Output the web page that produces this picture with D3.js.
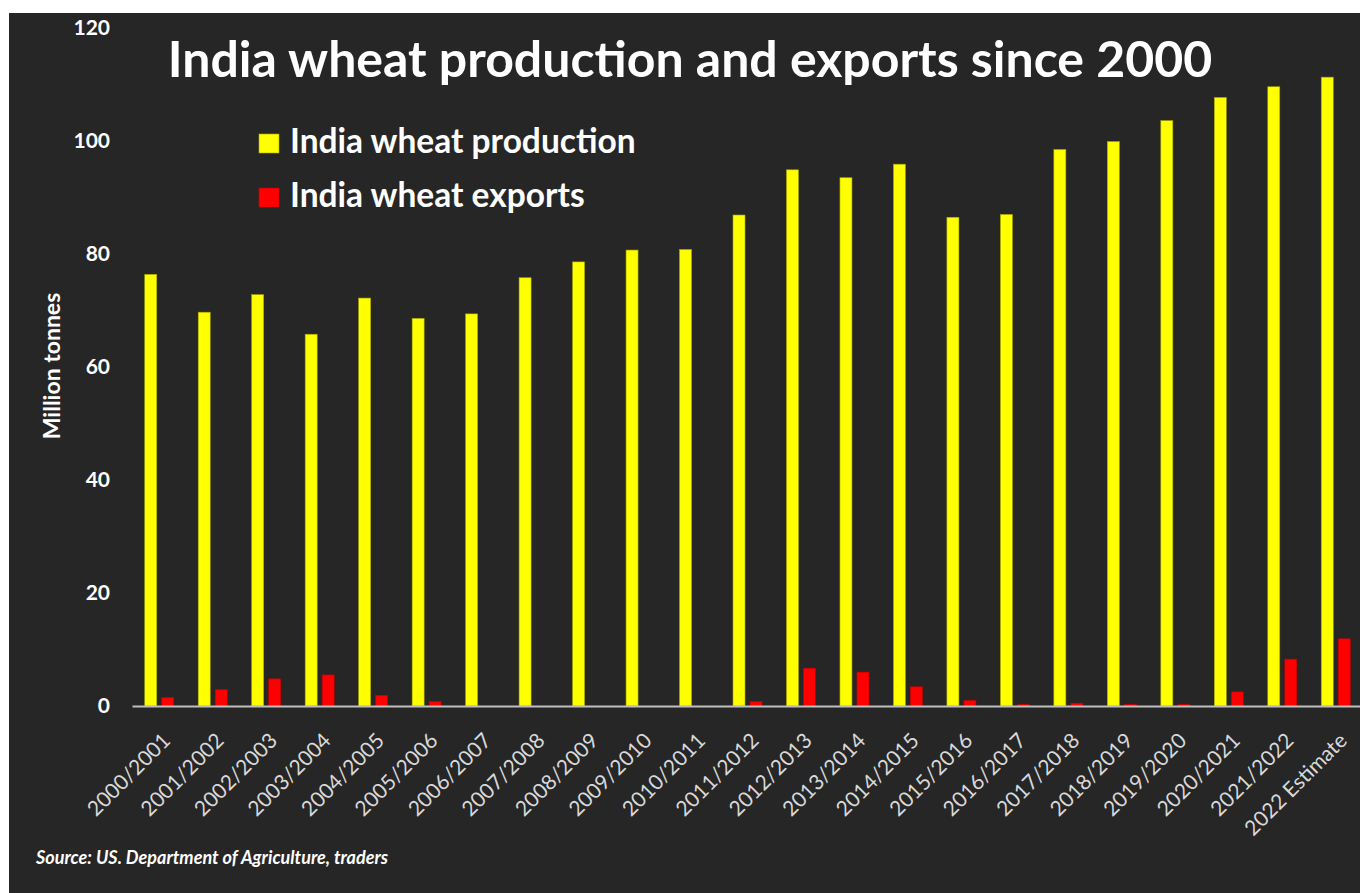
<!DOCTYPE html>
<html>
<head>
<meta charset="utf-8">
<script src="https://cdn.jsdelivr.net/npm/d3@7"></script>
<style>
  body { margin: 0; background: #fff; }
  text { font-family: Lato, "Open Sans", sans-serif; }
</style>
</head>
<body>
<div id="chart"></div>
<script>
var seasons = ["2000/2001","2001/2002","2002/2003","2003/2004","2004/2005","2005/2006",
  "2006/2007","2007/2008","2008/2009","2009/2010","2010/2011","2011/2012","2012/2013",
  "2013/2014","2014/2015","2015/2016","2016/2017","2017/2018","2018/2019","2019/2020",
  "2020/2021","2021/2022","2022 Estimate"];
var production = [76.4, 69.7, 72.8, 65.8, 72.2, 68.6, 69.4, 75.8, 78.6, 80.7, 80.8, 86.9,
  94.9, 93.5, 95.9, 86.5, 87.0, 98.5, 99.9, 103.6, 107.7, 109.6, 111.3];
var exports = [1.5, 2.9, 4.8, 5.5, 1.9, 0.8, 0, 0, 0, 0, 0, 0.8, 6.7, 6.0, 3.4, 1.0,
  0.3, 0.5, 0.3, 0.3, 2.5, 8.3, 11.9];
var yTicks = [0, 20, 40, 60, 80, 100, 120];

var W = 1360, H = 893;
var size = {left: 132, right: 1362, top: 28, bottom: 706};

var svg = d3.select("#chart").append("svg")
    .attr("width", W)
    .attr("height", H);

svg.append("rect")
    .attr("x", 9).attr("y", 13)
    .attr("width", W - 9).attr("height", H - 13)
    .attr("fill", "#262626");

var x = d3.scaleBand()
    .domain(seasons)
    .range([size.left, size.right]);

var y = d3.scaleLinear()
    .domain([0, 120])
    .range([size.bottom, size.top]);

var barW = 12, gap = 5;

var groups = svg.selectAll(".grp")
  .data(seasons)
  .enter().append("g")
    .attr("class", "grp")
    .attr("transform", function(d) { return "translate(" + (x(d) + x.bandwidth() / 2) + ",0)"; });

groups.append("rect")
    .attr("x", -barW - gap / 2 + 0.5)
    .attr("width", barW)
    .attr("y", function(d, i) { return y(production[i]); })
    .attr("height", function(d, i) { return y(0) - y(production[i]); })
    .attr("fill", "#ffff00")
    .attr("stroke", "#a8a800")
    .attr("stroke-width", 0.6);

groups.filter(function(d, i) { return exports[i] > 0; })
  .append("rect")
    .attr("x", gap / 2 + 0.5)
    .attr("width", barW)
    .attr("y", function(d) { return y(exports[seasons.indexOf(d)]); })
    .attr("height", function(d) { return y(0) - y(exports[seasons.indexOf(d)]); })
    .attr("fill", "#ff0000")
    .attr("stroke", "#c00000")
    .attr("stroke-width", 0.6);

// y axis labels only, no line
var yAxis = svg.append("g")
    .attr("transform", "translate(110,0)")
    .call(d3.axisLeft(y).tickValues(yTicks).tickSize(0).tickPadding(0));
yAxis.select(".domain").remove();
yAxis.selectAll("text")
    .attr("fill", "#ffffff")
    .style("font-size", "21px")
    .style("font-weight", "bold")
    .style("font-family", "Lato, sans-serif");

// x axis
var xAxis = svg.append("g")
    .attr("transform", "translate(0," + size.bottom + ")")
    .call(d3.axisBottom(x).tickSize(0).tickPadding(0));
xAxis.select(".domain")
    .attr("stroke", "#bfbfbf")
    .attr("stroke-width", 2);
xAxis.selectAll("text")
    .attr("fill", "#d9d9d9")
    .attr("text-anchor", "end")
    .attr("y", 0)
    .attr("dy", 0)
    .attr("transform", "translate(13,36) rotate(-45)")
    .style("font-size", "21px")
    .style("font-family", "Lato, sans-serif");

svg.append("text")
    .attr("transform", "translate(60,366) rotate(-90)")
    .attr("text-anchor", "middle")
    .attr("fill", "#ffffff")
    .style("font-size", "23px")
    .style("font-weight", "bold")
    .text("Million tonnes");

svg.append("text")
    .attr("x", 690).attr("y", 77)
    .attr("text-anchor", "middle")
    .attr("fill", "#ffffff")
    .style("font-size", "50px")
    .style("font-weight", "bold")
    .text("India wheat production and exports since 2000");

var legend = svg.append("g");
var legendItems = [["India wheat production", "#ffff00", "#a8a800"], ["India wheat exports", "#ff0000", "#c00000"]];
legend.selectAll("rect").data(legendItems).enter().append("rect")
    .attr("x", 259).attr("y", function(d, i) { return 134 + i * 54; })
    .attr("width", 20).attr("height", 19)
    .attr("fill", function(d) { return d[1]; })
    .attr("stroke", function(d) { return d[2]; })
    .attr("stroke-width", 0.6);
legend.selectAll("text").data(legendItems).enter().append("text")
    .attr("x", 290).attr("y", function(d, i) { return 153 + i * 54; })
    .attr("fill", "#ffffff")
    .style("font-size", "33.5px")
    .style("font-weight", "bold")
    .text(function(d) { return d[0]; });

svg.append("text")
    .attr("x", 36).attr("y", 864)
    .attr("fill", "#ffffff")
    .style("font-size", "18px")
    .style("font-weight", "bold")
    .style("font-style", "italic")
    .text("Source: US. Department of Agriculture, traders");
</script>
</body>
</html>
